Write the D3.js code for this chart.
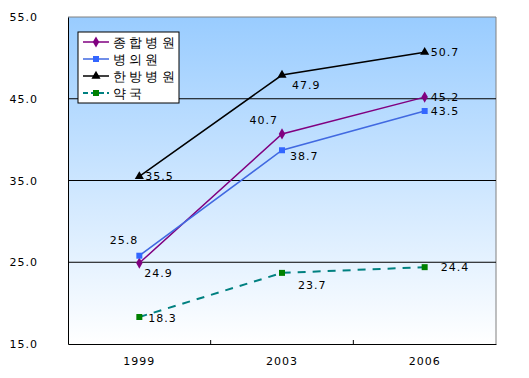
<!DOCTYPE html>
<html><head><meta charset="utf-8">
<script src="https://cdn.jsdelivr.net/npm/d3@7"></script>
<style>body{margin:0;background:#fff;} text{font-family:"DejaVu Sans",sans-serif;}</style>
</head><body>
<svg id="c" width="529" height="378"></svg>
<script>
const years = ["1999","2003","2006"];
const yTicks = [15,25,35,45,55];
const seriesNames = ["종합병원","병의원","한방병원","약국"];
const general = [24.9,40.7,45.2];
const clinic = [25.8,38.7,43.5];
const oriental = [35.5,47.9,50.7];
const pharmacy = [18.3,23.7,24.4];

const svg = d3.select("#c");
const L=68,T=17,R=496,B=344;
const x = d3.scaleBand().domain(years).range([L,R]);
const y = d3.scaleLinear().domain([15,55]).range([B,T]);

const defs = svg.append("defs");
const g = defs.append("linearGradient").attr("id","bg").attr("x1",0).attr("y1",0).attr("x2",0).attr("y2",1);
g.append("stop").attr("offset","0%").attr("stop-color","#99ccff");
g.append("stop").attr("offset","100%").attr("stop-color","#ffffff");
svg.append("rect").attr("x",L).attr("y",T).attr("width",R-L).attr("height",B-T).attr("fill","url(#bg)");
svg.append("path").attr("d",`M${L},${T}H${R}V${B}`).attr("fill","none").attr("stroke","#808080");
svg.selectAll(".grid").data(yTicks.filter(d=>d>15&&d<55)).enter().append("line")
  .attr("x1",L).attr("x2",R).attr("y1",d=>y(d)).attr("y2",d=>y(d)).attr("stroke","#000");
const ya = svg.append("g").attr("transform",`translate(${L},0)`)
  .call(d3.axisLeft(y).tickValues(yTicks).tickFormat(d3.format(".1f")).tickSize(0).tickPadding(30));
ya.select(".domain").attr("stroke","#000");
ya.selectAll("text").attr("font-size",11).attr("letter-spacing",1).attr("fill","#000");
const xa = svg.append("g").attr("transform",`translate(0,${B})`)
  .call(d3.axisBottom(x).tickSize(0).tickPadding(13));
xa.select(".domain").attr("stroke","#000");
xa.selectAll("text").attr("font-size",11).attr("letter-spacing",1).attr("fill","#000");
svg.selectAll(".xt").data(years.slice(1)).enter().append("line")
  .attr("x1",d=>x(d)).attr("x2",d=>x(d)).attr("y1",B).attr("y2",B-4).attr("stroke","#000");

const cx = d=>x(d)+x.bandwidth()/2;
const series = [
 {name:seriesNames[0],vals:general,color:"#800080",mcolor:"#800080",marker:"diamond",dash:null,w:1.5,
  lab:[[5,14,"start"],[-4,-10,"end"],[6,4,"start"]]},
 {name:seriesNames[1],vals:clinic,color:"#4169e1",mcolor:"#3366ff",marker:"square",dash:null,w:1.5,
  lab:[[-1,-12,"end"],[8,10,"start"],[6,4,"start"]]},
 {name:seriesNames[2],vals:oriental,color:"#000000",mcolor:"#000000",marker:"triangle",dash:null,w:1.5,
  lab:[[6,4,"start"],[10,14,"start"],[6,4,"start"]]},
 {name:seriesNames[3],vals:pharmacy,color:"#008080",mcolor:"#008000",marker:"square",dash:"8,7",w:2,
  lab:[[9,5,"start"],[16,16,"start"],[16,4,"start"]]}
];
const sym = {diamond:d3.symbolDiamond,square:d3.symbolSquare,triangle:d3.symbolTriangle};
const line = d3.line().x((d,i)=>cx(years[i])).y(d=>y(d));
series.forEach(s=>{
  svg.append("path").datum(s.vals).attr("d",line).attr("fill","none").attr("stroke",s.color)
    .attr("stroke-width",s.w).attr("stroke-dasharray",s.dash);
  svg.selectAll(null).data(s.vals).enter().append("path")
    .attr("transform",(d,i)=>`translate(${cx(years[i])},${y(d)})`)
    .attr("d",d3.symbol().type(sym[s.marker]).size(36)).attr("fill",s.mcolor);
  svg.selectAll(null).data(s.vals).enter().append("text")
    .attr("x",(d,i)=>cx(years[i])+s.lab[i][0]).attr("y",(d,i)=>y(d)+s.lab[i][1])
    .attr("text-anchor",(d,i)=>s.lab[i][2]).attr("font-size",11).attr("letter-spacing",1)
    .text(d=>d.toFixed(1));
});
const lg = svg.append("g").attr("transform","translate(78,32)");
lg.append("rect").attr("width",101).attr("height",71).attr("fill","#fff").attr("stroke","#000");
series.forEach((s,i)=>{
  const yy = 10+i*17;
  lg.append("line").attr("x1",5).attr("x2",31).attr("y1",yy).attr("y2",yy).attr("stroke",s.color)
    .attr("stroke-width",s.w).attr("stroke-dasharray",s.dash?"5,3":null);
  lg.append("path").attr("transform",`translate(18,${yy})`)
    .attr("d",d3.symbol().type(sym[s.marker]).size(36)).attr("fill",s.mcolor);
  lg.append("text").attr("x",35).attr("y",yy+5).attr("font-size",13).attr("letter-spacing",3.2)
    .attr("font-family","'Noto Sans CJK KR',sans-serif").text(s.name);
});
</script>
</body></html>
